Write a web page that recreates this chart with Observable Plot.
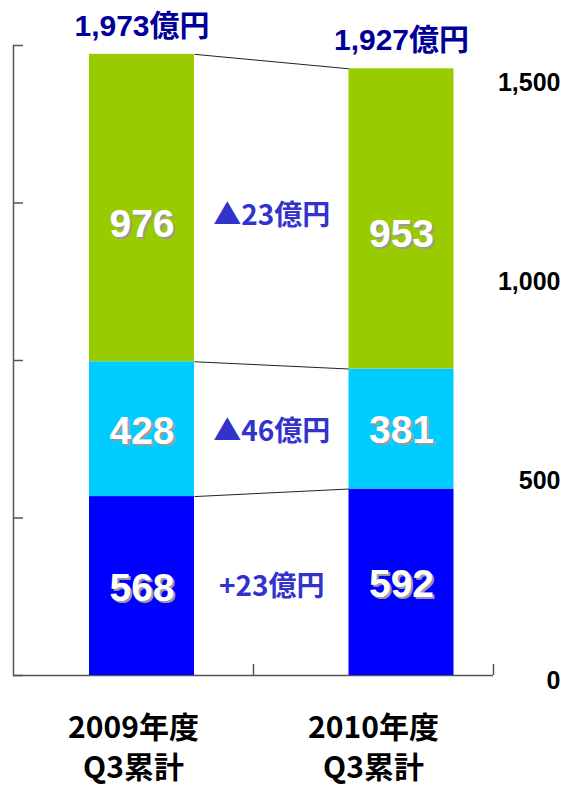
<!DOCTYPE html>
<html><head><meta charset="utf-8">
<script src="https://cdn.jsdelivr.net/npm/d3@7"></script>
<script src="https://cdn.jsdelivr.net/npm/@observablehq/plot@0.6"></script>
<style>
html,body{margin:0;padding:0;background:#fff;}
#chart{position:relative;width:562px;height:787px;overflow:hidden;}
#chart svg{position:absolute;left:0;top:0;}
</style></head><body><div id="chart"></div>
<script>
// ---- data ----
const years = ["2009年度\nQ3累計", "2010年度\nQ3累計"];
const segments = ["bottom", "middle", "top"];
const values2009 = [568, 428, 976];
const values2010 = [592, 381, 953];
const totalLabels = ["1,973億円", "1,927億円"];
const diffLabels = ["+23億円", "▲46億円", "▲23億円"];
const yTicks = [0, 500, 1000, 1500, 2000];
const rightTickValues = [0, 500, 1000, 1500];
const segColors = ["#0000ff", "#00ccff", "#99cc00"];

// ---- derived ----
const series = [values2009, values2010];
const rows = [];
series.forEach((vals, i) => {
  let acc = 0;
  vals.forEach((v, k) => { rows.push({i, k, value: v, y1: acc, y2: acc + v, mid: acc + v / 2}); acc += v; });
});
const lowerRows = rows.filter(r => r.k < 2);
const topRows = rows.filter(r => r.k === 2);
const totals = series.map((vals, i) => ({i, total: d3.sum(vals), label: totalLabels[i]}));
const cum = series.map(vals => Array.from(d3.cumsum(vals)));
const connectors = segments.map((s, k) => ({k, yL: cum[0][k], yR: cum[1][k]}));
const diffs = segments.map((s, k) => ({k, label: diffLabels[k],
  y: (rows.find(r => r.i === 0 && r.k === k).mid + rows.find(r => r.i === 1 && r.k === k).mid) / 2}));

const W = 562, H = 787;
const Y = {domain: [0, 2000], range: [675, 45], axis: null};
const half = 0.2023;
const latin = "Liberation Sans, Arial, Noto Sans CJK JP, sans-serif";
const cjk = "Noto Sans CJK JP, sans-serif";
const chart = document.getElementById("chart");

// frame, ticks, category labels
const B = Plot.plot({
  width: W, height: H,
  marginTop: 45, marginBottom: 112, marginLeft: 13, marginRight: 69,
  x: {type: "point", domain: years, padding: 0.5, axis: null},
  y: {domain: [0, 2000], axis: null},
  style: {background: "none"},
  marks: [
    Plot.frame({anchor: "left", stroke: "#555", strokeWidth: 1.5}),
    Plot.ruleY([0], {stroke: "#555", strokeWidth: 1.5}),
    Plot.axisY({ticks: yTicks, tickSize: -10, tickFormat: () => "", stroke: "#555", strokeWidth: 1.5}),
    Plot.axisX({tickSize: -11, tickFormat: () => "", dx: 120, stroke: "#555", strokeWidth: 1.5}),
    Plot.text(years, {x: d => d, frameAnchor: "bottom", dy: 34, lineAnchor: "top", lineHeight: 1.33,
      fontSize: 30, fontWeight: "bold", fontFamily: cjk, fill: "#000"})
  ]
});
chart.appendChild(B);

// right-hand labels
const C = Plot.plot({
  width: W, height: H, marginRight: 2,
  x: {axis: null},
  y: {domain: [0, 1500], range: [680, 82], axis: null},
  style: {background: "none"},
  marks: [
    Plot.text(rightTickValues, {y: d => d, text: d => d3.format(",")(d), frameAnchor: "right", textAnchor: "end",
      fontSize: 25, fontWeight: "bold", fontFamily: latin, fill: "#000"})
  ]
});
chart.appendChild(C);

// bars
const segText = (data, dyExtra, fill, off) => Plot.text(data, {x: "i", y: "mid", text: d => String(d.value), fill,
  dx: off, dy: dyExtra + off, fontSize: 39, fontWeight: "bold", fontFamily: latin});

const A = Plot.plot({
  width: W, height: H,
  x: {domain: [0, 1], range: [141.5, 401], axis: null},
  y: Y,
  color: {type: "identity"},
  style: {background: "none"},
  marks: [
    Plot.link(connectors, {x1: () => half, x2: () => 1 - half, y1: "yL", y2: "yR", stroke: "#222", strokeWidth: 1}),
    Plot.rectY(rows, {x1: d => d.i - half, x2: d => d.i + half, y1: "y1", y2: "y2", fill: d => segColors[d.k]}),
    segText(lowerRows, 2, "#9a9a9a", 2),
    segText(lowerRows, 2, "#fff", 0),
    segText(topRows, 16, "#9a9a9a", 2),
    segText(topRows, 16, "#fff", 0),
    Plot.text(totals, {x: "i", y: "total", text: "label", dy: -28, fill: "#000099",
      fontSize: 30, fontWeight: "bold", fontFamily: latin}),
    Plot.text(diffs, {x: () => 0.5, y: "y", text: "label", fill: "#3333cc", dy: 3,
      fontSize: 28, fontWeight: "bold", fontFamily: cjk})
  ]
});
chart.appendChild(A);
</script></body></html>
